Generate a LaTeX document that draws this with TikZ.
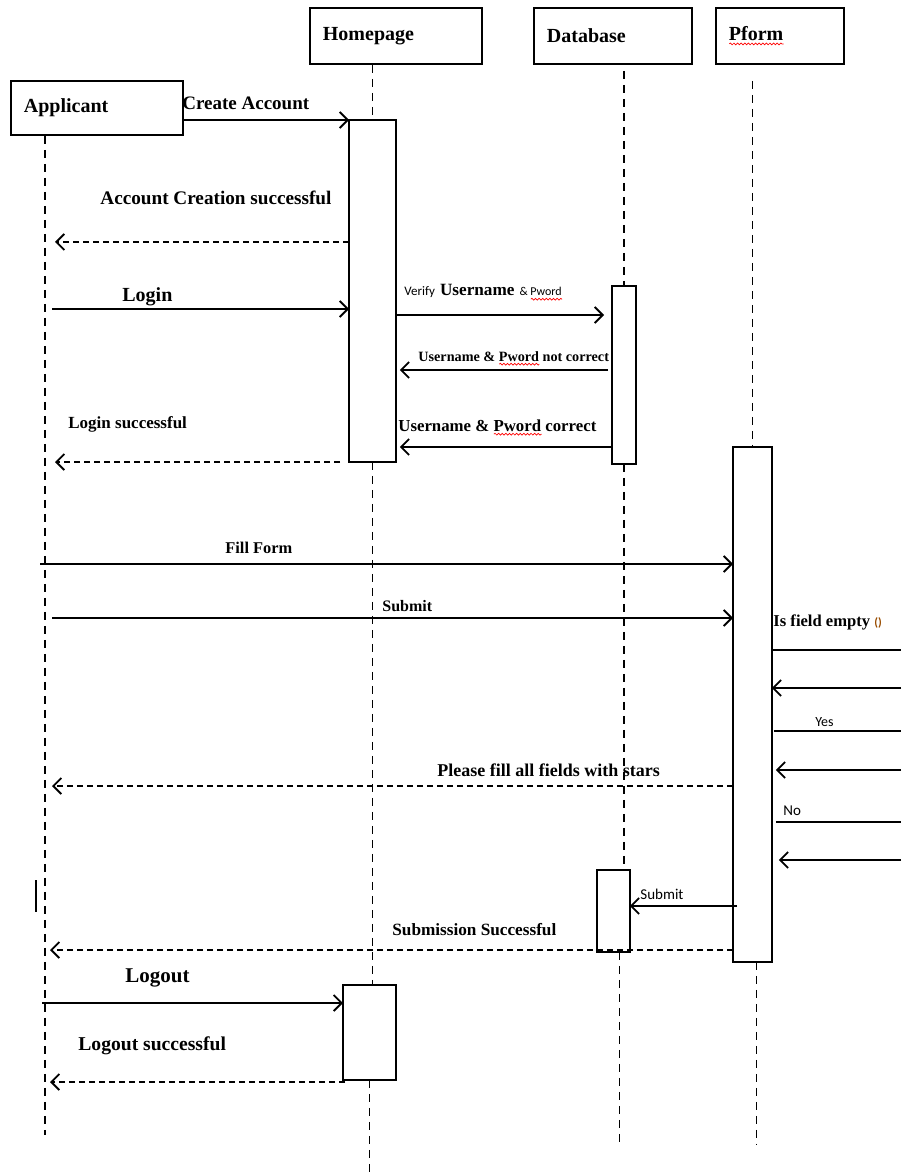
\documentclass[tikz,border=0pt]{standalone}
\usepackage{fontspec}
\setmainfont{Liberation Serif}
\newfontfamily\uisans{Carlito}
\usetikzlibrary{positioning,arrows.meta,decorations.pathmorphing}

% red wavy underline of the spell checker
\newsavebox\spellbox
\newcommand\spellchk[1]{\sbox\spellbox{#1}\rlap{\tikz[x=1pt,y=1pt,baseline=0pt]
    \draw[red, line width=0.35pt, decorate, decoration={snake, amplitude=0.45pt, segment length=1.8pt}] (0,-1.6) -- (\wd\spellbox,-1.6);}\usebox\spellbox}

\begin{document}
\begin{tikzpicture}[
    x=0.5pt, y=-0.5pt,
    actor/.style={draw, line width=0.9pt, anchor=north west, minimum height=28pt, text width=#1, inner xsep=6.5pt, align=left, font=\fontsize{10}{12}\selectfont\bfseries},
    act/.style={draw, line width=0.9pt, fill=white, anchor=north west, inner sep=0pt},
    life/.style={line width=0.85pt, dash pattern=on 4pt off 3pt},
    msg/.style={-{Straight Barb[length=4pt,width=8pt]}, line width=0.9pt},
    reply/.style={msg, dash pattern=on 3pt off 2pt},
    plain/.style={line width=0.9pt},
    lbl/.style={anchor=base west, inner sep=0pt, font=\fontsize{#1}{#1}\selectfont\bfseries},
    lbl/.default=9,
    small/.style={anchor=base west, inner sep=0pt, font=\uisans\fontsize{#1}{#1}\selectfont},
    small/.default=7
]
    \useasboundingbox (0,0) rectangle (901,1176);

    % heads of the lifelines
    \node[actor=73pt, minimum height=27pt] (app)   at (10,80) {Applicant};
    \node[actor=73pt]                      (home)  at (309,7) {Homepage};
    \node[actor=66pt]                      (db)    at (533,7) {Database};
    \node[actor=51pt]                      (pform) at (715,7) {\spellchk{Pform}};

    % ends of the lifelines
    \coordinate (appTop)  at ([xshift=17.5pt]app.south west);
    \coordinate (appEnd)  at (45,1135);
    \coordinate (homeEnd) at (369,1176);
    \coordinate (dbEnd)   at (621,1145);
    \coordinate (pfEnd)   at (756,1145);

    % activations (placed before drawing, lifelines go under them)
    \path (349,120) node[act, minimum width=22.5pt, minimum height=170pt]   (hpAct1) {};
    \path (612,286) node[act, minimum width=11pt,   minimum height=88pt]    (dbAct1) {};
    \path (733,447) node[act, minimum width=18.5pt, minimum height=256.5pt] (pfAct)  {};
    \path (597,870) node[act, minimum width=15.5pt, minimum height=40pt]    (dbAct2) {};
    \path (343,985) node[act, minimum width=25.5pt, minimum height=46.5pt]  (hpAct2) {};

    % lifelines
    \draw[life] (appTop) -- (appEnd);
    \draw[life] (hpAct1.north |- home.south) -- (hpAct1.north);
    \draw[life] (hpAct1.south) -- (hpAct1.south |- hpAct2.north);
    \draw[life] (hpAct2.south) -- (hpAct2.south |- homeEnd);
    \draw[life] ([yshift=-3pt]dbAct1.north |- db.south) -- (dbAct1.north);
    \draw[life] (dbAct1.south) -- (dbAct1.south |- dbAct2.north);
    \draw[life] ([xshift=3pt]dbAct2.south) -- ([xshift=3pt]dbAct2.south |- dbEnd);
    \draw[life] ([yshift=-8pt]pfAct.north |- pform.south) -- (pfAct.north);
    \draw[life] ([xshift=2pt]pfAct.south) -- ([xshift=2pt]pfAct.south |- pfEnd);

    % redraw the boxes over the lines
    \foreach \a in {hpAct1,dbAct1,pfAct,dbAct2,hpAct2}
        \draw[line width=0.9pt, fill=white] (\a.north west) rectangle (\a.south east);

    % rows of the messages
    \coordinate (acRet)     at (55,242);
    \coordinate (loginOut)  at (52,309);
    \coordinate (rVerify)   at (0,315);
    \coordinate (rWrong)    at (0,370);
    \coordinate (rRight)    at (0,447);
    \coordinate (loginRet)  at (55,462);
    \coordinate (fillOut)   at (40,564);
    \coordinate (submitOut) at (52,618);
    \coordinate (starsRet)  at (52,786);
    \coordinate (rSave)     at (0,906);
    \coordinate (subRet)    at (50,950);
    \coordinate (logoutOut) at (42,1003);
    \coordinate (logoutRet) at (50,1082);
    % self checks leave the page on the right
    \coordinate (eCheck)  at (901,650);
    \coordinate (eCheckR) at (901,688);
    \coordinate (eYes)    at (901,731);
    \coordinate (eYesR)   at (901,770);
    \coordinate (eNo)     at (901,822);
    \coordinate (eNoR)    at (901,860);

    % Applicant <-> Homepage
    \draw[msg]   (app.east |- hpAct1.north) -- (hpAct1.north west);
    \node[lbl=9.5] (tCreate) at (182,110) {Create Account};
    \draw[reply] (hpAct1.west |- acRet) -- (acRet);
    \node[lbl=9.6] (tCreated) at (100,205) {Account Creation successful};
    \draw[msg]   (loginOut) -- (hpAct1.west |- loginOut);
    \node[lbl=10] (tLogin) at (122,302) {Login};

    % Homepage <-> Database
    \draw[msg] (hpAct1.east |- rVerify) -- ([xshift=-4pt]dbAct1.west |- rVerify);
    \node[anchor=base west, inner sep=0pt] (tVerify) at (404,296)
        {{\uisans\fontsize{6.5}{7}\selectfont Verify} {\fontsize{8.6}{9}\selectfont\bfseries Username} {\uisans\fontsize{6}{6}\selectfont\&\ \spellchk{Pword}}};
    \draw[msg] ([xshift=-2pt]dbAct1.west |- rWrong) -- ([xshift=2pt]hpAct1.east |- rWrong);
    \node[lbl=7.1] (tWrong) at (418,361) {Username \& \spellchk{Pword} not correct};
    \draw[msg] (dbAct1.west |- rRight) -- ([xshift=2pt]hpAct1.east |- rRight);
    \node[lbl=8.4] (tRight) at (398,431) {Username \& \spellchk{Pword} correct};
    \draw[reply] ([xshift=-4.5pt]hpAct1.west |- loginRet) -- (loginRet);
    \node[lbl=8.5] (tLogged) at (68,428) {Login successful};

    % Applicant <-> Pform
    \draw[msg] (fillOut) -- (pfAct.west |- fillOut);
    \node[lbl=8.2] (tFill) at (225,553) {Fill Form};
    \draw[msg] (submitOut) -- (pfAct.west |- submitOut);
    \node[lbl=8] (tSubmit) at (382,611) {Submit};

    % checks of the fields
    \draw[plain] (pfAct.east |- eCheck) -- (eCheck);
    \node[lbl=8.3] (tEmpty) at (773,626) {Is field empty {\uisans\fontsize{6}{6}\selectfont\color{orange!60!black}()}};
    \draw[msg] (eCheckR) -- (pfAct.east |- eCheckR);
    \draw[plain] ([xshift=1pt]pfAct.east |- eYes) -- (eYes);
    \node[small=7] (tYes) at (815,726) {Yes};
    \draw[msg] (eYesR) -- ([xshift=2pt]pfAct.east |- eYesR);
    \draw[reply] (pfAct.west |- starsRet) -- (starsRet);
    \node[lbl=9] (tStars) at (437,776) {Please fill all fields with stars};
    \draw[plain] ([xshift=2pt]pfAct.east |- eNo) -- (eNo);
    \node[small=7.5] (tNo) at (783,815) {No};
    \draw[msg] (eNoR) -- ([xshift=3.5pt]pfAct.east |- eNoR);

    % Pform -> Database
    \draw[msg] ([xshift=2pt]pfAct.west |- rSave) -- (dbAct2.east |- rSave);
    \node[small=7.5] (tSave) at (640,899) {Submit};
    \draw[reply] (pfAct.west |- subRet) -- (subRet);
    \node[lbl=8.6] (tSaved) at (392,935) {Submission Successful};

    % Applicant <-> Homepage, logout
    \draw[msg] (logoutOut) -- (hpAct2.west |- logoutOut);
    \node[lbl=10.5] (tLogout) at (125,982) {Logout};
    \draw[reply] ([xshift=1pt]hpAct2.west |- logoutRet) -- (logoutRet);
    \node[lbl=9.8] (tLoggedOut) at (78,1050) {Logout successful};

    % stray text cursor
    \draw[line width=1.4pt] (36,880) -- (36,912);
\end{tikzpicture}
\end{document}
